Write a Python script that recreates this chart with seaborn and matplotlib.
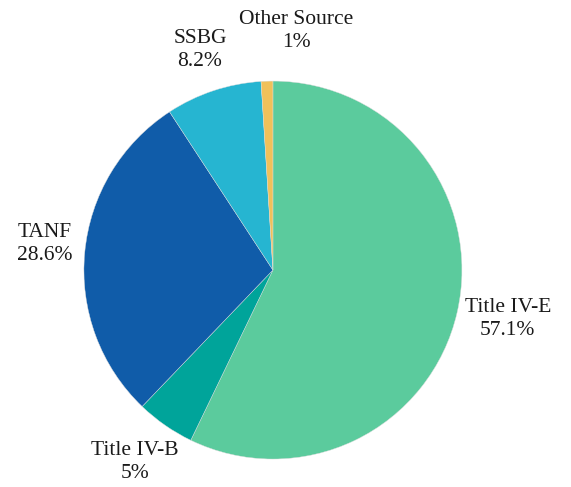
import numpy as np
import matplotlib
matplotlib.use('Agg')
import matplotlib.pyplot as plt
import seaborn as sns

# Data
SOURCES = ['Title IV-E', 'Title IV-B', 'TANF', 'SSBG', 'Other Source']
SHARES = [57.1, 5.0, 28.6, 8.2, 1.0]
PCT_LABELS = ['57.1%', '5%', '28.6%', '8.2%', '1%']
COLORS = ['#5bcb9d', '#00a49a', '#105ca9', '#26b5d1', '#f0c15a']

FONT_SIZE = 15.5

sns.set_theme(style='white')
plt.rcParams['font.family'] = ['Liberation Serif', 'DejaVu Serif']

fig = plt.figure(figsize=(5.71, 4.87), dpi=100)
ax = fig.add_axes([0, 0, 1, 1])

wedges, texts = ax.pie(
    SHARES, colors=COLORS, startangle=90, counterclock=False,
    labels=[f'{s}\n{p}' for s, p in zip(SOURCES, PCT_LABELS)],
    labeldistance=1.24, radius=1.0,
    wedgeprops={'linewidth': 0.3, 'edgecolor': '#dddddd'},
    textprops={'fontsize': FONT_SIZE, 'color': '#1a1a1a', 'linespacing': 1.3},
)
for t in texts:
    t.set_ha('center')
    t.set_va('center')
    t.set_multialignment('center')

# hand placement of the labels (the top ones are crowded)
texts[0].set_position((1.243, -0.259))
texts[1].set_position((-0.730, -1.016))
texts[2].set_position((-1.206, 0.138))
texts[3].set_position((-0.386, 1.164))
texts[4].set_position((0.122, 1.265))

ax.set_xlim(-1.444, 1.577)
ax.set_ylim(-1.148, 1.429)
ax.set_aspect('auto')
ax.axis('off')

fig.savefig('out.png', dpi=100)
plt.close(fig)
